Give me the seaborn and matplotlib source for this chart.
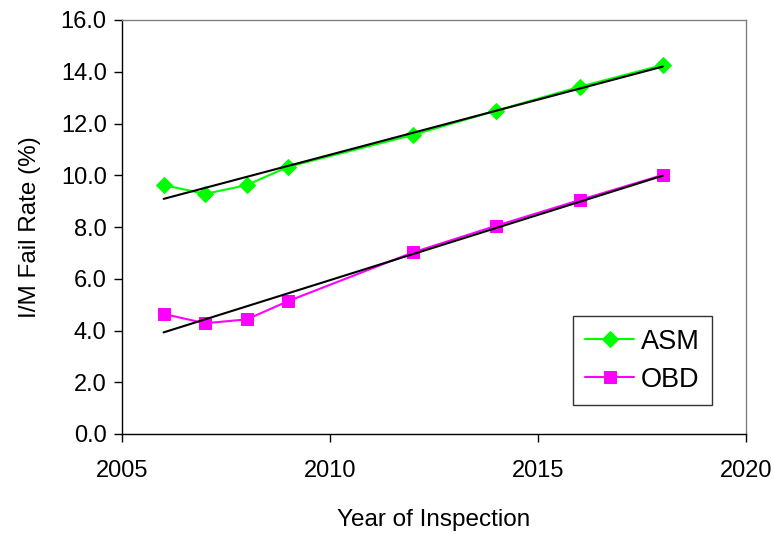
import numpy as np
import pandas as pd
import matplotlib
matplotlib.use("Agg")
import matplotlib.pyplot as plt
import seaborn as sns

years = [2006, 2007, 2008, 2009, 2012, 2014, 2016, 2018]
asm = [9.62, 9.28, 9.62, 10.33, 11.56, 12.50, 13.42, 14.26]
obd = [4.64, 4.28, 4.43, 5.14, 7.02, 8.05, 9.04, 10.01]
yticks = [0, 2, 4, 6, 8, 10, 12, 14, 16]
xticks = [2005, 2010, 2015, 2020]

df = pd.DataFrame({"year": years, "ASM": asm, "OBD": obd})

sns.set_theme(style="white")
plt.rcParams["font.family"] = ["Liberation Sans", "DejaVu Sans"]
plt.rcParams["text.color"] = "black"
plt.rcParams["axes.labelcolor"] = "black"

fig = plt.figure(figsize=(7.74, 5.34), dpi=100)
ax = fig.add_axes([122 / 774, 1 - 434 / 534, 624 / 774, 414 / 534])

sns.lineplot(data=df, x="year", y="ASM", ax=ax, color="#00FF00", marker="D",
             markersize=8.5, markeredgecolor="#00FF00", linewidth=1.5, label="ASM")
sns.lineplot(data=df, x="year", y="OBD", ax=ax, color="#FF00FF", marker="s",
             markersize=8, markeredgecolor="#FF00FF", linewidth=1.5, label="OBD")
sns.regplot(data=df, x="year", y="ASM", ax=ax, scatter=False, ci=None,
            truncate=True, color="black", line_kws={"linewidth": 1.5})
sns.regplot(data=df, x="year", y="OBD", ax=ax, scatter=False, ci=None,
            truncate=True, color="black", line_kws={"linewidth": 1.5})

ax.set_xlim(2005, 2020)
ax.set_ylim(0, 16)
ax.set_xticks(xticks)
ax.set_yticks(yticks)
ax.set_yticklabels([f"{v:.1f}" for v in yticks])
ax.tick_params(axis="both", direction="out", length=6, width=1, colors="black",
               labelsize=17, left=True, bottom=True)
ax.tick_params(axis="x", pad=13)
ax.tick_params(axis="y", pad=5)
for s in ax.spines.values():
    s.set_color("#808080")
    s.set_linewidth(1)
ax.spines["left"].set_color("black")
ax.spines["bottom"].set_color("black")

ax.set_xlabel("Year of Inspection", fontsize=17.5, labelpad=19, color="black")
ax.set_ylabel("I/M Fail Rate (%)", fontsize=17.5, labelpad=14, color="black")

leg = ax.legend(loc="lower right", bbox_to_anchor=(0.9455, 0.070), fontsize=19.5,
                frameon=True, fancybox=False, edgecolor="black",
                handlelength=1.8, labelspacing=0.45, borderpad=0.45,
                handletextpad=0.25, borderaxespad=0)
leg.get_frame().set_linewidth(1)
for t in leg.get_texts():
    t.set_color("black")

fig.savefig("out.png", dpi=100)
